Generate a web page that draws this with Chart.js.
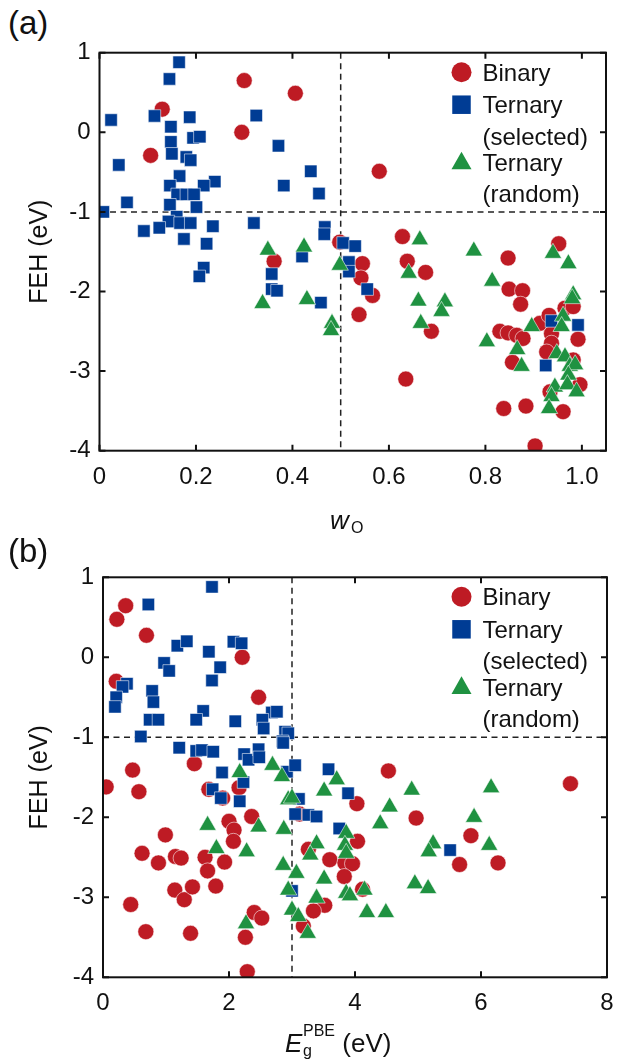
<!DOCTYPE html>
<html>
<head>
<meta charset="utf-8">
<script src="https://cdn.jsdelivr.net/npm/chart.js@4.4.1/dist/chart.umd.min.js"></script>
<style>
  body { margin: 0; background: #fff; width: 620px; height: 1063px; position: relative; overflow: hidden;
         font-family: "Liberation Sans", Arial, sans-serif; color: #111; }
  canvas { position: absolute; left: 0; }
  .panel { position: absolute; font-size: 33px; line-height: 1; }
  .xt { position: absolute; font-size: 26px; line-height: 1; white-space: nowrap; }
  .xt i { font-style: italic; }
  .sub, .sup { position: absolute; font-size: 16px; }
</style>
</head>
<body>
<div class="panel" style="left:8px; top:6px;">(a)</div>
<canvas id="chartA" width="620" height="540" style="top:0; width:620px; height:540px;"></canvas>
<div class="xt" style="left:330px; top:507px;"><i>w</i><span class="sub" style="left:21px; top:13px;">O</span></div>

<div class="panel" style="left:8px; top:534px;">(b)</div>
<canvas id="chartB" width="620" height="533" style="top:530px; width:620px; height:533px;"></canvas>
<div class="xt" style="left:285px; top:1030px;"><i>E</i><span class="sub" style="left:18px; top:13px;">g</span><span class="sup" style="left:18px; top:-7px;">PBE</span><span style="margin-left:40px;">(eV)</span></div>

<script>
// panel (a): FEH vs w_O
const binaryA = [[0.30,0.65],[0.406,0.49],[0.13,0.29],[0.295,0.0],[0.106,-0.29],[0.58,-0.49],
  [0.498,-1.38],[0.362,-1.62],[0.545,-1.65],[0.542,-1.83],[0.566,-2.05],[0.538,-2.29],[0.628,-1.31],
  [0.638,-1.62],[0.676,-1.76],[0.688,-2.50],[0.635,-3.10],[0.847,-1.58],[0.849,-1.97],[0.877,-1.99],
  [0.873,-2.16],[0.952,-1.40],[0.83,-2.50],[0.847,-2.52],[0.865,-2.55],[0.878,-2.59],[0.913,-2.40],
  [0.932,-2.30],[0.937,-2.53],[0.937,-2.65],[0.927,-2.76],[0.856,-2.89],[0.965,-2.21],[0.982,-2.19],
  [0.992,-2.60],[0.982,-2.86],[0.996,-3.17],[0.934,-3.26],[0.961,-3.51],[0.838,-3.47],[0.884,-3.44],
  [0.903,-3.94]];
const selectedA = [[0.165,0.88],[0.145,0.67],[0.024,0.155],[0.114,0.205],[0.187,0.19],[0.325,0.21],
  [0.148,0.07],[0.148,-0.12],[0.194,-0.07],[0.208,-0.055],[0.371,-0.17],[0.15,-0.27],[0.18,-0.31],
  [0.189,-0.35],[0.04,-0.41],[0.438,-0.49],[0.166,-0.55],[0.146,-0.67],[0.239,-0.62],[0.216,-0.67],
  [0.382,-0.67],[0.455,-0.77],[0.161,-0.78],[0.18,-0.78],[0.196,-0.78],[0.057,-0.88],[0.146,-0.91],
  [0.201,-0.94],[0.008,-1.0],[0.16,-1.06],[0.143,-1.12],[0.167,-1.14],[0.189,-1.14],[0.124,-1.2],
  [0.092,-1.24],[0.235,-1.18],[0.32,-1.14],[0.175,-1.34],[0.222,-1.40],[0.467,-1.19],[0.466,-1.28],
  [0.505,-1.39],[0.53,-1.43],[0.216,-1.70],[0.207,-1.81],[0.42,-1.56],[0.357,-1.78],[0.357,-1.97],
  [0.368,-1.99],[0.459,-2.14],[0.517,-1.63],[0.517,-1.75],[0.555,-1.97],[0.937,-2.37],[0.992,-2.42],
  [0.925,-2.93]];
const randomA = [[0.349,-1.48],[0.424,-1.44],[0.338,-2.15],[0.43,-2.10],[0.482,-2.40],[0.48,-2.49],
  [0.498,-1.67],[0.664,-1.35],[0.776,-1.49],[0.641,-1.77],[0.814,-1.87],[0.661,-2.12],[0.716,-2.13],
  [0.709,-2.25],[0.666,-2.40],[0.94,-1.52],[0.972,-1.65],[0.982,-2.04],[0.98,-2.09],[0.896,-2.44],
  [0.803,-2.63],[0.866,-2.73],[0.875,-2.94],[0.961,-2.31],[0.958,-2.44],[0.948,-2.78],[0.965,-2.82],
  [0.975,-2.94],[0.986,-2.92],[0.972,-3.05],[0.944,-3.20],[0.97,-3.17],[0.989,-3.26],[0.937,-3.32],
  [0.932,-3.47]];

// panel (b): FEH vs PBE band gap
const binaryB = [[0.36,0.645],[0.22,0.475],[0.69,0.275],[2.21,0.0],[0.21,-0.3],[2.47,-0.5],[1.45,-1.33],
  [0.47,-1.41],[0.05,-1.62],[0.57,-1.68],[1.68,-1.65],[1.9,-1.76],[2.16,-1.63],[2.36,-1.99],[2.0,-2.05],
  [2.08,-2.16],[2.07,-2.30],[0.99,-2.22],[0.62,-2.45],[0.88,-2.57],[1.15,-2.49],[1.24,-2.51],[1.62,-2.5],
  [1.93,-2.56],[1.66,-2.67],[1.14,-2.91],[1.29,-3.03],[1.42,-2.87],[1.79,-2.86],[0.44,-3.09],[0.68,-3.43],
  [1.39,-3.45],[2.4,-3.19],[2.52,-3.26],[2.26,-3.5],[2.29,-3.93],[4.53,-1.42],[4.03,-1.83],[3.12,-1.96],
  [4.97,-2.01],[4.04,-2.30],[3.26,-2.40],[3.6,-2.53],[3.84,-2.57],[3.96,-2.58],[3.83,-2.74],[4.12,-2.90],
  [3.52,-3.10],[3.34,-3.17],[3.18,-3.36],[5.66,-2.59],[5.84,-2.23],[6.27,-2.57],[7.42,-1.58]];
const selectedB = [[1.73,0.88],[0.72,0.66],[1.18,0.145],[1.33,0.2],[1.68,0.07],[2.07,0.195],[2.2,0.175],
  [0.97,-0.07],[1.05,-0.17],[1.86,-0.125],[1.73,-0.29],[0.38,-0.33],[0.31,-0.37],[0.21,-0.5],[0.19,-0.62],
  [0.78,-0.42],[0.8,-0.56],[1.59,-0.67],[1.48,-0.78],[0.74,-0.78],[0.88,-0.78],[2.1,-0.8],[2.68,-0.69],
  [2.76,-0.68],[2.53,-0.78],[2.55,-0.89],[2.89,-0.93],[2.94,-0.95],[2.85,-1.05],[0.6,-0.99],[1.21,-1.13],
  [1.48,-1.17],[1.57,-1.16],[1.75,-1.18],[2.24,-1.21],[2.31,-1.28],[2.47,-1.15],[2.48,-1.25],[1.89,-1.44],
  [2.23,-1.56],[1.74,-1.65],[1.87,-1.76],[2.17,-1.80],[2.86,-1.07],[2.92,-1.43],[3.05,-1.35],[3.58,-1.40],
  [3.89,-1.70],[3.11,-1.77],[3.05,-1.96],[3.26,-1.97],[3.39,-1.99],[3.75,-2.14],[5.51,-2.41],[3.0,-2.92]];
const randomB = [[2.17,-1.44],[2.69,-1.35],[2.84,-1.49],[1.66,-2.10],[2.47,-2.12],[2.87,-2.15],[1.8,-2.39],
  [2.28,-2.43],[2.86,-2.60],[2.27,-3.33],[2.94,-1.78],[3.71,-1.53],[3.51,-1.67],[3.0,-1.76],[4.9,-1.66],
  [4.55,-1.87],[4.4,-2.08],[3.86,-2.20],[3.84,-2.35],[3.39,-2.33],[3.29,-2.47],[3.86,-2.45],[5.24,-2.33],
  [5.17,-2.43],[3.07,-2.70],[3.51,-2.77],[3.86,-2.95],[3.92,-2.98],[4.15,-2.91],[4.95,-2.83],[5.16,-2.89],
  [3.39,-3.01],[2.94,-2.91],[3.0,-3.16],[3.1,-3.24],[4.19,-3.19],[4.49,-3.19],[3.25,-3.45],[6.16,-1.63],
  [5.89,-2.0],[6.13,-2.35]];

const xTicksA = [0, 0.2, 0.4, 0.6, 0.8, 1.0];
const xTicksB = [0, 2, 4, 6, 8];
const yTicks = [1, 0, -1, -2, -3, -4];
const legendLabels = [['Binary'], ['Ternary', '(selected)'], ['Ternary', '(random)']];

const RED = '#BE1B24', BLUE = '#003C94', GREEN = '#1F9241';
const FONT = '"Liberation Sans", Arial, sans-serif';

function pts(arr) { return arr.map(p => ({x: p[0], y: p[1]})); }

function marker(ctx, kind, x, y, s, color) {
  ctx.fillStyle = color;
  ctx.beginPath();
  if (kind === 'circle') ctx.arc(x, y, s / 2, 0, Math.PI * 2);
  else if (kind === 'rect') ctx.rect(x - s / 2, y - s / 2, s, s);
  else {
    ctx.moveTo(x, y - s * 0.5);
    ctx.lineTo(x + s * 0.5, y + s * 0.38);
    ctx.lineTo(x - s * 0.5, y + s * 0.38);
    ctx.closePath();
  }
  ctx.fill();
}

// dashed guide lines, inward ticks, frame and legend
const decor = {
  id: 'decor',
  beforeDatasetsDraw(chart, args, o) {
    const {ctx, chartArea: a, scales: {x, y}} = chart;
    ctx.save();
    ctx.strokeStyle = '#222';
    ctx.lineWidth = 1.5;
    ctx.setLineDash([6, 4.5]);
    const vx = x.getPixelForValue(o.vx), hy = y.getPixelForValue(o.hy);
    ctx.beginPath();
    ctx.moveTo(vx, a.top); ctx.lineTo(vx, a.bottom);
    ctx.moveTo(a.left, hy); ctx.lineTo(a.right, hy);
    ctx.stroke();
    ctx.restore();
  },
  afterDraw(chart, args, o) {
    const {ctx, chartArea: a, scales: {x, y}} = chart;
    ctx.save();
    ctx.strokeStyle = '#111';
    ctx.lineWidth = 2;
    ctx.beginPath();
    o.xt.forEach(v => {
      const px = x.getPixelForValue(v);
      ctx.moveTo(px, a.bottom); ctx.lineTo(px, a.bottom - 6);
      ctx.moveTo(px, a.top); ctx.lineTo(px, a.top + 6);
    });
    yTicks.forEach(v => {
      const py = y.getPixelForValue(v);
      ctx.moveTo(a.left, py); ctx.lineTo(a.left + 6, py);
      ctx.moveTo(a.right, py); ctx.lineTo(a.right - 6, py);
    });
    ctx.stroke();
    ctx.strokeRect(a.left, a.top, a.right - a.left, a.bottom - a.top);

    // legend
    const kinds = ['circle', 'rect', 'triangle'];
    const colors = [RED, BLUE, GREEN];
    const sizes = [20, 18.5, 20];
    const rows = [[19.5], [52, 83.5], [110, 141]];
    ctx.font = '24px ' + FONT;
    ctx.textBaseline = 'alphabetic';
    legendLabels.forEach((lines, i) => {
      marker(ctx, kinds[i], 461.5, a.top + rows[i][0] + (i === 2 ? -1 : 0), sizes[i], colors[i]);
      ctx.fillStyle = '#111';
      lines.forEach((t, j) => ctx.fillText(t, 482.5, a.top + rows[i][j] + 8.6));
    });
    ctx.restore();
  }
};

function makeChart(id, sets, xMin, xMax, xt, fmt, vx, pad, yW, xH) {
  return new Chart(document.getElementById(id), {
    type: 'scatter',
    data: {
      datasets: [
        {label: 'Binary', data: pts(sets[0]), pointStyle: 'circle', pointRadius: 8,
         backgroundColor: RED, borderColor: 'rgba(255,255,255,0.7)', borderWidth: 0.8, order: 3},
        {label: 'Ternary (selected)', data: pts(sets[1]), pointStyle: 'rect', pointRadius: 8.8,
         backgroundColor: BLUE, borderColor: 'rgba(255,255,255,0.7)', borderWidth: 0.8, order: 2},
        {label: 'Ternary (random)', data: pts(sets[2]), pointStyle: 'triangle', pointRadius: 10,
         backgroundColor: GREEN, borderColor: 'rgba(255,255,255,0.7)', borderWidth: 0.8, order: 1}
      ]
    },
    options: {
      responsive: false,
      animation: false,
      events: [],
      layout: {padding: pad},
      plugins: {legend: {display: false}, tooltip: {enabled: false}, decor: {vx: vx, hy: -1, xt: xt}},
      scales: {
        x: {
          type: 'linear', min: xMin, max: xMax,
          afterBuildTicks: s => { s.ticks = xt.map(v => ({value: v})); },
          afterFit: s => { s.height = xH; },
          grid: {display: false, drawTicks: true, tickLength: 12},
          border: {display: false},
          ticks: {autoSkip: false, maxRotation: 0, padding: 0, color: '#111',
                  font: {family: FONT, size: 24}, callback: fmt}
        },
        y: {
          type: 'linear', min: -4, max: 1,
          afterBuildTicks: s => { s.ticks = yTicks.map(v => ({value: v})); },
          afterFit: s => { s.width = yW; },
          grid: {display: false, drawTicks: true, tickLength: 9},
          border: {display: false},
          ticks: {padding: 0, color: '#111', font: {family: FONT, size: 24}, callback: v => String(v)},
          title: {display: true, text: 'FEH (eV)', color: '#111', font: {family: FONT, size: 25},
                  padding: {top: 25, bottom: 0}}
        }
      }
    },
    plugins: [decor]
  });
}

makeChart('chartA', [binaryA, selectedA, randomA], 0, 1.05, xTicksA,
  v => (v === 0 ? '0' : v.toFixed(1)), 0.5, {left: 0, top: 52.7, right: 14, bottom: 0}, 99.5, 89.3);
makeChart('chartB', [binaryB, selectedB, randomB], 0, 8, xTicksB,
  v => String(v), 3, {left: 0, top: 47.3, right: 13, bottom: 0}, 103, 85.7);
</script>
</body>
</html>
